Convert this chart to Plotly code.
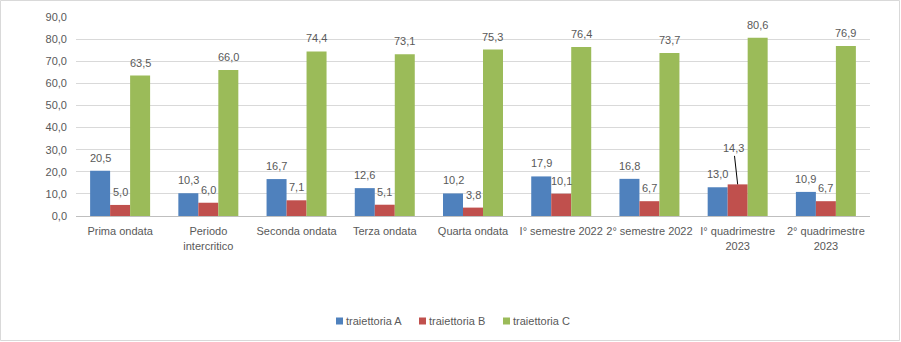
import plotly.graph_objects as go

categories = [
    "Prima ondata",
    "Periodo<br>intercritico",
    "Seconda ondata",
    "Terza ondata",
    "Quarta ondata",
    "I° semestre 2022",
    "2° semestre 2022",
    "I° quadrimestre<br>2023",
    "2° quadrimestre<br>2023",
]
traiettoria_a = [20.5, 10.3, 16.7, 12.6, 10.2, 17.9, 16.8, 13.0, 10.9]
traiettoria_b = [5.0, 6.0, 7.1, 5.1, 3.8, 10.1, 6.7, 14.3, 6.7]
traiettoria_c = [63.5, 66.0, 74.4, 73.1, 75.3, 76.4, 73.7, 80.6, 76.9]
y_ticks = [0, 10, 20, 30, 40, 50, 60, 70, 80, 90]

series = [
    ("traiettoria A", traiettoria_a, "#4f81bd"),
    ("traiettoria B", traiettoria_b, "#c0504d"),
    ("traiettoria C", traiettoria_c, "#9bbb59"),
]

FONT = "Liberation Sans"
GREY = "#595959"
FS = 11

W, H = 901, 342
ml, mr, mt, mb = 76, 31, 17, 126
pw, ph = W - ml - mr, H - mt - mb
BARGAP = 0.32
bar_px = pw / len(categories) * (1 - BARGAP) / len(series)

# label of the B bar that is pulled out with a leader line
callout = ("traiettoria B", 7)


def fmt(v):
    return f"{v:.1f}".replace(".", ",")


fig = go.Figure()
for k, (name, vals, color) in enumerate(series):
    fig.add_trace(go.Bar(
        name=name,
        x=categories,
        y=vals,
        marker=dict(color=color, line=dict(width=0)),
        showlegend=False,
    ))
    # value labels above each bar
    for i, v in enumerate(vals):
        if (name, i) == callout:
            fig.add_annotation(
                x=categories[i], y=v, text=fmt(v),
                xshift=(k - 1) * bar_px,
                showarrow=True, arrowhead=0, arrowwidth=1,
                arrowcolor="#000000", ax=-4, ay=-36,
                font=dict(family=FONT, size=FS, color=GREY),
            )
        else:
            fig.add_annotation(
                x=categories[i], y=v, text=fmt(v),
                xshift=(k - 1) * bar_px, yshift=13,
                yanchor="middle", showarrow=False,
                font=dict(family=FONT, size=FS, color=GREY),
            )


def px_to_paper_x(px):
    return (px - ml) / pw


def px_to_paper_y(py):
    return (mt + ph - py) / ph


# custom legend: small square swatches followed by the series name
legend_x = [336, 419, 503]
legend_y = 321
for (name, vals, color), lx in zip(series, legend_x):
    fig.add_shape(
        type="rect", xref="paper", yref="paper",
        x0=px_to_paper_x(lx), x1=px_to_paper_x(lx + 7),
        y0=px_to_paper_y(legend_y + 3.5), y1=px_to_paper_y(legend_y - 3.5),
        line=dict(width=0), fillcolor=color,
    )
    fig.add_annotation(
        xref="paper", yref="paper",
        x=px_to_paper_x(lx + 8), y=px_to_paper_y(legend_y),
        xanchor="left", yanchor="middle", showarrow=False,
        text=name, font=dict(family=FONT, size=FS, color=GREY),
    )

# outer frame of the chart
fig.add_shape(
    type="rect", xref="paper", yref="paper",
    x0=px_to_paper_x(0.5), x1=px_to_paper_x(W - 1.5),
    y0=px_to_paper_y(H - 1.5), y1=px_to_paper_y(0.5),
    line=dict(color="#d9d9d9", width=1), fillcolor="rgba(0,0,0,0)",
    layer="below",
)

fig.update_layout(
    width=W, height=H,
    margin=dict(l=ml, r=mr, t=mt, b=mb),
    paper_bgcolor="white", plot_bgcolor="white",
    separators=",.",
    barmode="group",
    bargap=BARGAP,
    bargroupgap=0,
    font=dict(family=FONT, size=FS, color=GREY),
    showlegend=False,
    xaxis=dict(
        showgrid=False, showline=True, linecolor="#bfbfbf", linewidth=1,
        ticks="", tickangle=0, ticklabelstandoff=5,
        tickfont=dict(family=FONT, size=FS, color=GREY),
    ),
    yaxis=dict(
        range=[0, 90], tickvals=y_ticks, tickformat=".1f",
        showgrid=True, gridcolor="#d9d9d9", gridwidth=1,
        zeroline=False, showline=False, ticks="", ticklabelstandoff=8,
        tickfont=dict(family=FONT, size=FS, color=GREY),
    ),
)

fig.write_html("out.html")
